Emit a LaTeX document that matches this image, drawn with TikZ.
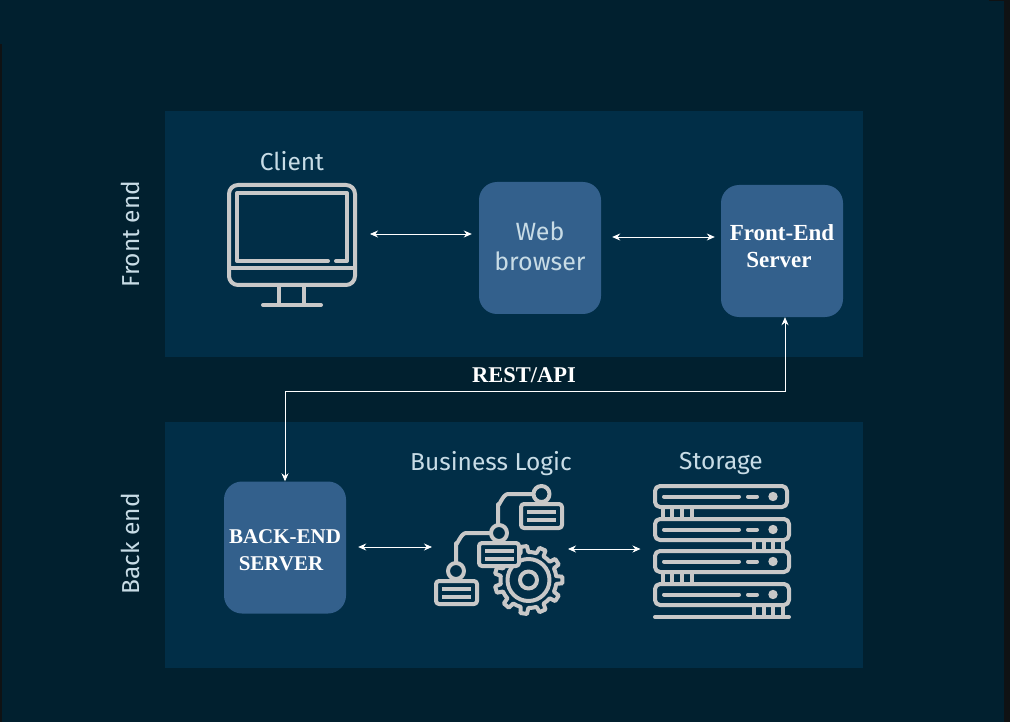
\documentclass[tikz,border=0pt]{standalone}
\usepackage{fontspec}
\setmainfont{Fira Sans}
\newfontfamily\boxfont{Liberation Serif}
\usetikzlibrary{arrows.meta}
\definecolor{pagebg}{RGB}{1,32,47}
\definecolor{panelbg}{RGB}{1,46,71}
\definecolor{boxbg}{RGB}{51,96,140}
\definecolor{iconcol}{RGB}{200,200,200}
\definecolor{labelcol}{RGB}{200,220,230}
\definecolor{edgedark}{RGB}{15,18,20}
\tikzset{
  panel/.style={fill=panelbg},
  tierbox/.style={rectangle, rounded corners=18pt, fill=boxbg, minimum width=122pt,
                  minimum height=132pt, inner sep=0pt},
  boxtext/.style={align=center, inner sep=0pt, text=labelcol, font=\fontsize{25}{30}\selectfont},
  serifbold/.style={boxtext, text=white, font=\boxfont\bfseries\fontsize{#1}{27}\selectfont},
  iconbox/.style={rectangle, minimum width=#1, inner sep=0pt, outer sep=0pt},
  toplabel/.style={text=labelcol, font=\fontsize{24.5}{28}\selectfont, inner sep=0pt},
  sidelabel/.style={toplabel, rotate=90},
  iconline/.style={draw=iconcol, line width=4pt, line join=round, line cap=round},
  iconfill/.style={iconline, fill=panelbg},
  biarrow/.style={{Stealth[length=8pt,width=7pt]}-{Stealth[length=8pt,width=7pt]}, white, line width=0.8pt},
}
\begin{document}
\begin{tikzpicture}[x=1pt, y=-1pt]
  \useasboundingbox (0,0) rectangle (1010,722);
  \fill[pagebg] (0,0) rectangle (1010,722);
  \fill[edgedark] (1004,0) rectangle (1010,722);
  \fill[edgedark] (989,0) rectangle (1010,1);
  \fill[edgedark] (0,44) rectangle (2,722);
  \fill[panel] (165,111) rectangle (863,357);
  \fill[panel] (165,422) rectangle (863,668);

  \node[sidelabel] (frontlabel) at (130,234) {Front end};
  \node[sidelabel] (backlabel) at (130,544) {Back end};
  \node[toplabel] (clientlabel) at (292,161) {Client};
  \node[toplabel] (logiclabel) at (491,464) {Business Logic};
  \node[toplabel] (storagelabel) at (721,464) {Storage};
  \node[serifbold=22.5] (restlabel) at (524,375) {REST/API};

  \node[tierbox] (webbox) at (540,248) {};
  \node[tierbox] (frontbox) at (782,251) {};
  \node[tierbox] (backbox) at (285,547.5) {};
  \node[boxtext] (webtext) at (540,246) {Web\\browser};
  \node[serifbold=23] (fronttext) at (782,246) {Front-End\\Server\hspace*{6pt}};
  \node[serifbold=21] (backtext) at (285,550) {BACK-END\\SERVER\hspace*{8pt}};

  % monitor
  \node[iconbox=130pt, minimum height=122pt] (clienticon) at (292,244) {};
  \draw[iconline, rounded corners=9pt] (229,268) -- (229,185) -- (355,185) -- (355,285) -- (229,285) -- cycle;
  \draw[iconline] (229,268) -- (355,268);
  \draw[iconline] (328,261) -- (237,261) -- (237,193) -- (347,193) -- (347,261) -- (336,261);
  \draw[iconline] (279,285) -- (279,305) (304,285) -- (304,305) (263,305) -- (321,305);

  % gear and the three cards
  \node[iconbox=130pt, minimum height=132pt] (logicicon) at (499,551) {};
  \draw[iconline] (541,494) -- (508,494) to[out=180,in=-90] (498,504) -- (498,533);
  \draw[iconline] (499,533) -- (466,533) to[out=180,in=-90] (456,543) -- (456,571);
  \begin{scope}[shift={(528.5,580)}]
    \draw[iconline] (-8:28) foreach \a in {0,32.727,...,340} {
      -- ({\a-8}:28) -- ({\a-5.5}:34) -- ({\a+5.5}:34) -- ({\a+8}:28)
      arc[start angle={\a+8}, end angle={\a+24.727}, radius=28]
    } -- cycle;
    \draw[iconline] (0,0) circle[radius=21];
    \draw[iconline] (0,0) circle[radius=8.5];
  \end{scope}
  \foreach \cx/\cy/\cw/\ch in {521/504/41/24, 479/543/40/23, 436/581/41/23} {
    \draw[iconfill, rounded corners=3pt] (\cx,\cy) rectangle ++(\cw,\ch);
    \draw[iconline, line cap=butt] (\cx+6,\cy+7.5) -- ++(29,0) (\cx+6,\cy+15.5) -- ++(29,0);
  }
  \draw[iconfill] (541.5,494) circle[radius=8];
  \draw[iconfill] (499,533) circle[radius=8];
  \draw[iconfill] (456,571) circle[radius=8];

  % server rack
  \node[iconbox=139pt, minimum height=135pt] (storageicon) at (722,550.5) {};
  \foreach \ty/\rx in {486/787, 519/789, 551/789, 584/789} {
    \draw[iconline, rounded corners=5pt] (655,\ty) rectangle (\rx,\ty+21);
    \draw[iconline] (664,\ty+10.5) -- (739,\ty+10.5) (748,\ty+10.5) -- (757,\ty+10.5);
    \fill[iconcol] (773,\ty+10.5) circle[radius=4.7];
  }
  \foreach \ty in {507,572} {
    \draw[iconline, line cap=butt] (663,\ty) -- (663,\ty+12) (672,\ty) -- (672,\ty+12)
      (682,\ty) -- (682,\ty+12) (692,\ty) -- (692,\ty+12);
  }
  \foreach \tx in {754,764,773,783} {
    \draw[iconline, line cap=butt] (\tx,540) -- (\tx,551) (\tx,605) -- (\tx,617);
  }
  \draw[iconline] (655,617) -- (789,617);

  \coordinate (rowa) at (0,234);
  \coordinate (rowb) at (0,237);
  \coordinate (rowc) at (0,547);
  \coordinate (rowd) at (0,549);
  \coordinate (lane) at (285,391);
  \draw[biarrow, shorten <=13pt, shorten >=7pt] (clienticon.east |- rowa) -- (webbox.west |- rowa);
  \draw[biarrow, shorten <=11pt, shorten >=6pt] (webbox.east |- rowb) -- (frontbox.west |- rowb);
  \draw[biarrow, shorten <=12pt, shorten >=2pt] (backbox.east |- rowc) -- (logicicon.west |- rowc);
  \draw[biarrow, shorten <=4pt, shorten >=12pt] (logicicon.east |- rowd) -- (storageicon.west |- rowd);
  \draw[biarrow] ([xshift=3pt]frontbox.south) |- (lane) -- (backbox.north);
\end{tikzpicture}
\end{document}
